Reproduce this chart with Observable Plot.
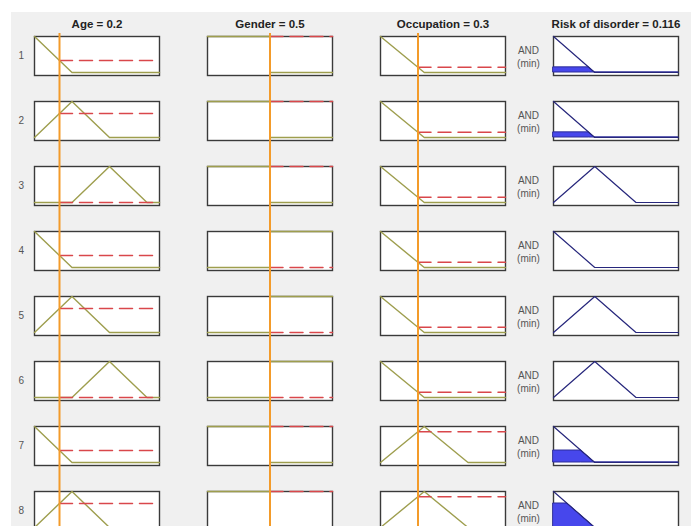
<!DOCTYPE html>
<html><head><meta charset="utf-8">
<script src="https://cdn.jsdelivr.net/npm/d3@7"></script>
<script src="https://cdn.jsdelivr.net/npm/@observablehq/plot@0.6"></script>
<style>
html,body{margin:0;padding:0;background:#fff;overflow:hidden;width:691px;height:526px;}
#bg{position:absolute;left:11px;top:12px;width:680px;height:514px;background:#f0f0f0;}
#chart{position:absolute;left:0;top:0;}
</style></head><body><div id="bg"></div><div id="chart"></div>
<script>
// ---- data ----
const variables = ["Age", "Gender", "Occupation", "Risk of disorder"];
const titles = ["Age = 0.2", "Gender = 0.5", "Occupation = 0.3", "Risk of disorder = 0.116"];
const inputValues = [0.2, 0.5, 0.3];
const rules = [1, 2, 3, 4, 5, 6, 7, 8];

const ageMF = {low: [[0,1],[0.3,0],[1,0]], medium: [[0,0],[0.3,1],[0.6,0],[1,0]], high: [[0,0],[0.3,0],[0.6,1],[0.9,0],[1,0]]};
const genderMF = {male: [[0,1],[0.5,1],[0.5,0],[1,0]], female: [[0,0],[0.5,0],[0.5,1],[1,1]]};
const occupationMF = {low: [[0,1],[0.35,0],[1,0]], middle: [[0,0],[0.35,1],[0.7,0],[1,0]]};
const riskMF = {low: [[0,1],[0.33,0],[1,0]], medium: [[0,0],[0.33,1],[0.66,0],[1,0]]};

const ageTerms = ["low","medium","high","low","medium","high","low","medium"];
const genderTerms = ["male","male","male","female","female","female","male","male"];
const occupationTerms = ["low","low","low","low","low","low","middle","middle"];
const riskTerms = ["low","low","medium","low","medium","medium","low","low"];

const ageDegree = [0.333, 0.667, 0, 0.333, 0.667, 0, 0.333, 0.667];
const genderDegree = [1, 1, 1, 0, 0, 0, 1, 1];
const occupationDegree = [0.143, 0.143, 0.143, 0.143, 0.143, 0.143, 0.857, 0.857];
const firingStrength = [0.143, 0.143, 0, 0, 0, 0, 0.333, 0.667];

// ---- tables built from the arrays ----
const inputMFs = [ageMF, genderMF, occupationMF];
const inputTerms = [ageTerms, genderTerms, occupationTerms];
const inputDegrees = [ageDegree, genderDegree, occupationDegree];

const mfLines = [];
const dashed = [];
const cursors = [];
rules.forEach((r, ri) => {
  for (let v = 0; v < 3; v++) {
    inputMFs[v][inputTerms[v][ri]].forEach(([x, y], k) => mfLines.push({rule: r, variable: variables[v], x, y, k}));
    const deg = inputDegrees[v][ri];
    dashed.push({rule: r, variable: variables[v], x: inputValues[v], y: deg});
    dashed.push({rule: r, variable: variables[v], x: 1, y: deg});
    cursors.push({rule: r, variable: variables[v], x: inputValues[v]});
  }
});

const outLines = [];
const outFill = [];
function clipMF(points, s) {
  const out = [];
  for (let k = 0; k < points.length; k++) {
    const [x, y] = points[k];
    if (k > 0) {
      const [x0, y0] = points[k - 1];
      if ((y0 - s) * (y - s) < 0) { const t = (s - y0) / (y - y0); out.push([x0 + t * (x - x0), s]); }
    }
    out.push([x, Math.min(y, s)]);
  }
  return out;
}
rules.forEach((r, ri) => {
  const pts = riskMF[riskTerms[ri]];
  pts.forEach(([x, y]) => outLines.push({rule: r, variable: variables[3], x, y}));
  const s = firingStrength[ri];
  if (s > 0) clipMF(pts, s).forEach(([x, y]) => outFill.push({rule: r, variable: variables[3], x, y}));
});

const olive = "#9e9e4e", red = "#d9474b", orange = "#f39b2a", navy = "#27277c", blue = "#4747ec";

const chart = Plot.plot({
  width: 691,
  height: 560,
  marginTop: 0, marginRight: 0, marginBottom: 0, marginLeft: 0,
  x: {domain: [0, 1], axis: null},
  y: {domain: [-0.083, 1], axis: null},
  fx: {domain: variables, range: [34, 678], paddingInner: 0.2775, paddingOuter: 0, round: false, axis: null},
  fy: {domain: rules, range: [36, 530], paddingInner: 0.4, paddingOuter: 0, round: false, axis: null},
  style: {background: "transparent", fontFamily: "'Liberation Sans', Arial, sans-serif"},
  marks: [
    Plot.frame({fill: "white"}),
    Plot.frame({stroke: "#3a3a3a", strokeWidth: 1.4}),
    Plot.line(mfLines, {x: "x", y: "y", fx: "variable", fy: "rule", stroke: olive, strokeWidth: 1.4}),
    Plot.areaY(outFill, {x: "x", y: "y", fx: "variable", fy: "rule", fill: blue, stroke: "#2e2e9a", strokeWidth: 1}),
    Plot.line(outLines, {x: "x", y: "y", fx: "variable", fy: "rule", stroke: navy, strokeWidth: 1.2}),
    Plot.line(dashed, {x: "x", y: "y", z: d => d.rule + d.variable, fx: "variable", fy: "rule", stroke: red, strokeWidth: 1.5, strokeDasharray: "13,7"}),
    Plot.ruleX(cursors.filter(d => d.rule === 1), {x: "x", fx: "variable", fy: "rule", stroke: orange, strokeWidth: 2, insetTop: -3, insetBottom: -13}),
    Plot.ruleX(cursors.filter(d => d.rule > 1), {x: "x", fx: "variable", fy: "rule", stroke: orange, strokeWidth: 2, insetTop: -13, insetBottom: -13}),
    Plot.text(rules, {fx: () => variables[0], fy: d => d, text: d => String(d), frameAnchor: "left", dx: -16, fill: "#555", fontSize: 10}),
    Plot.text(rules, {fx: () => variables[3], fy: d => d, text: () => "AND\n(min)", frameAnchor: "left", dx: -25, textAnchor: "middle", lineAnchor: "middle", lineHeight: 1.3, fill: "#555", fontSize: 10}),
    Plot.text(variables, {fx: d => d, fy: () => rules[0], text: (d, i) => titles[i], frameAnchor: "top", dy: -12, lineAnchor: "middle", fontWeight: "bold", fontSize: 11.5, fill: "#222"})
  ]
});
document.getElementById("chart").appendChild(chart);
</script></body></html>
